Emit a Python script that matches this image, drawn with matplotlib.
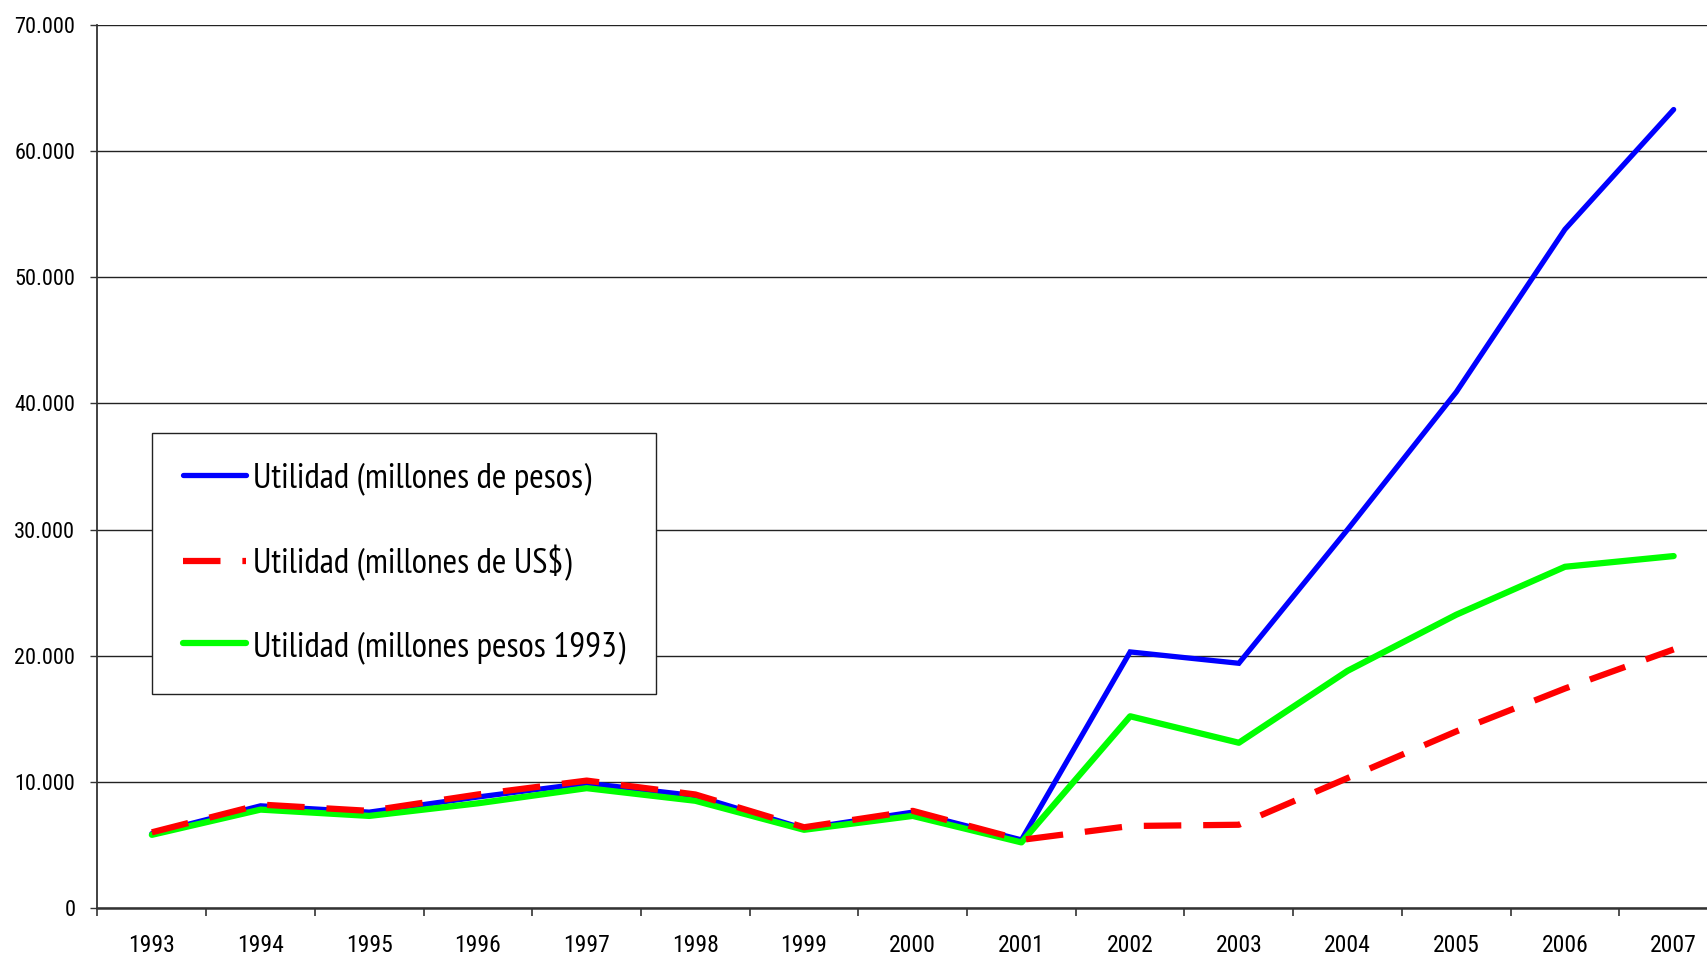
import numpy as np
import matplotlib
matplotlib.use("Agg")
import matplotlib.pyplot as plt
from matplotlib import font_manager
from matplotlib.ticker import FuncFormatter, FixedLocator

years = ["1993", "1994", "1995", "1996", "1997", "1998", "1999", "2000",
         "2001", "2002", "2003", "2004", "2005", "2006", "2007"]
pesos = [5900, 8100, 7600, 8800, 9900, 8900, 6300, 7600, 5400,
         20300, 19400, 30000, 40900, 53800, 63300]
usd = [6000, 8200, 7700, 9000, 10100, 9000, 6400, 7700, 5400,
       6500, 6600, 10300, 14000, 17400, 20500]
pesos93 = [5800, 7800, 7300, 8300, 9500, 8500, 6200, 7300, 5200,
           15200, 13100, 18800, 23250, 27050, 27900]
labels = ["Utilidad (millones de pesos)", "Utilidad (millones de US$)",
          "Utilidad (millones pesos 1993)"]


def pick(cands):
    for cand in cands:
        try:
            font_manager.findfont(cand, fallback_to_default=False)
            return cand
        except Exception:
            pass
    return "DejaVu Sans"


fam = pick(["Roboto Condensed", "Archivo Narrow", "PT Sans Narrow"])
leg_fam = pick(["PT Sans Narrow", "Roboto Condensed", "Archivo Narrow"])
plt.rcParams["font.family"] = [fam, "DejaVu Sans"]

W, H = 1708, 957
fig = plt.figure(figsize=(W / 100, H / 100), dpi=100)
ax = fig.add_axes([97.5 / W, 1 - 908 / H, 1630.5 / W, 883 / H])

x = np.arange(len(years))
ax.plot(x, pesos, color="#0000ff", lw=3.8, solid_capstyle="round",
        solid_joinstyle="miter", zorder=3, label=labels[0])
ax.plot(x, usd, color="#ff0000", lw=4.5, dashes=(6, 3.5), dash_capstyle="butt",
        zorder=5, label=labels[1])
ax.plot(x, pesos93, color="#00ff00", lw=4.5, solid_capstyle="round",
        zorder=4, label=labels[2])

ax.set_xlim(-0.5, len(years) - 0.5)
ax.set_ylim(0, 70000)
ax.set_yticks(np.arange(0, 70001, 10000))
ax.yaxis.set_major_formatter(FuncFormatter(lambda v, p: f"{int(v):,}".replace(",", ".")))
ax.set_xticks(x)
ax.set_xticklabels(years)
ax.xaxis.set_minor_locator(FixedLocator(np.arange(-0.5, len(years), 1.0)))
ax.tick_params(axis="x", which="major", length=0, pad=18.5, labelsize=17)
ax.tick_params(axis="x", which="minor", length=5.5, width=1.2, color="#333333")
ax.tick_params(axis="y", which="major", length=5, width=1.0, pad=11,
               labelsize=16, color="#333333")

ax.grid(axis="y", color="#222222", lw=1.0, zorder=1)
ax.set_axisbelow(True)
for s in ["top", "right"]:
    ax.spines[s].set_visible(False)
ax.spines["left"].set_color("#333333")
ax.spines["left"].set_linewidth(1.3)
ax.spines["bottom"].set_color("#333333")
ax.spines["bottom"].set_linewidth(1.8)

leg = ax.legend(loc="upper left", bbox_to_anchor=(152.5 / W, 1 - 432.5 / H),
                bbox_transform=fig.transFigure, borderaxespad=0,
                prop={"family": [leg_fam, "DejaVu Sans"], "size": 25.5},
                frameon=True, fancybox=False, handlelength=1.8,
                handletextpad=0.2, labelspacing=1.4, borderpad=0.85)
leg.get_frame().set_edgecolor("#222222")
leg.get_frame().set_linewidth(1.0)
leg.get_frame().set_alpha(1)

fig.savefig("out.png", dpi=100)
